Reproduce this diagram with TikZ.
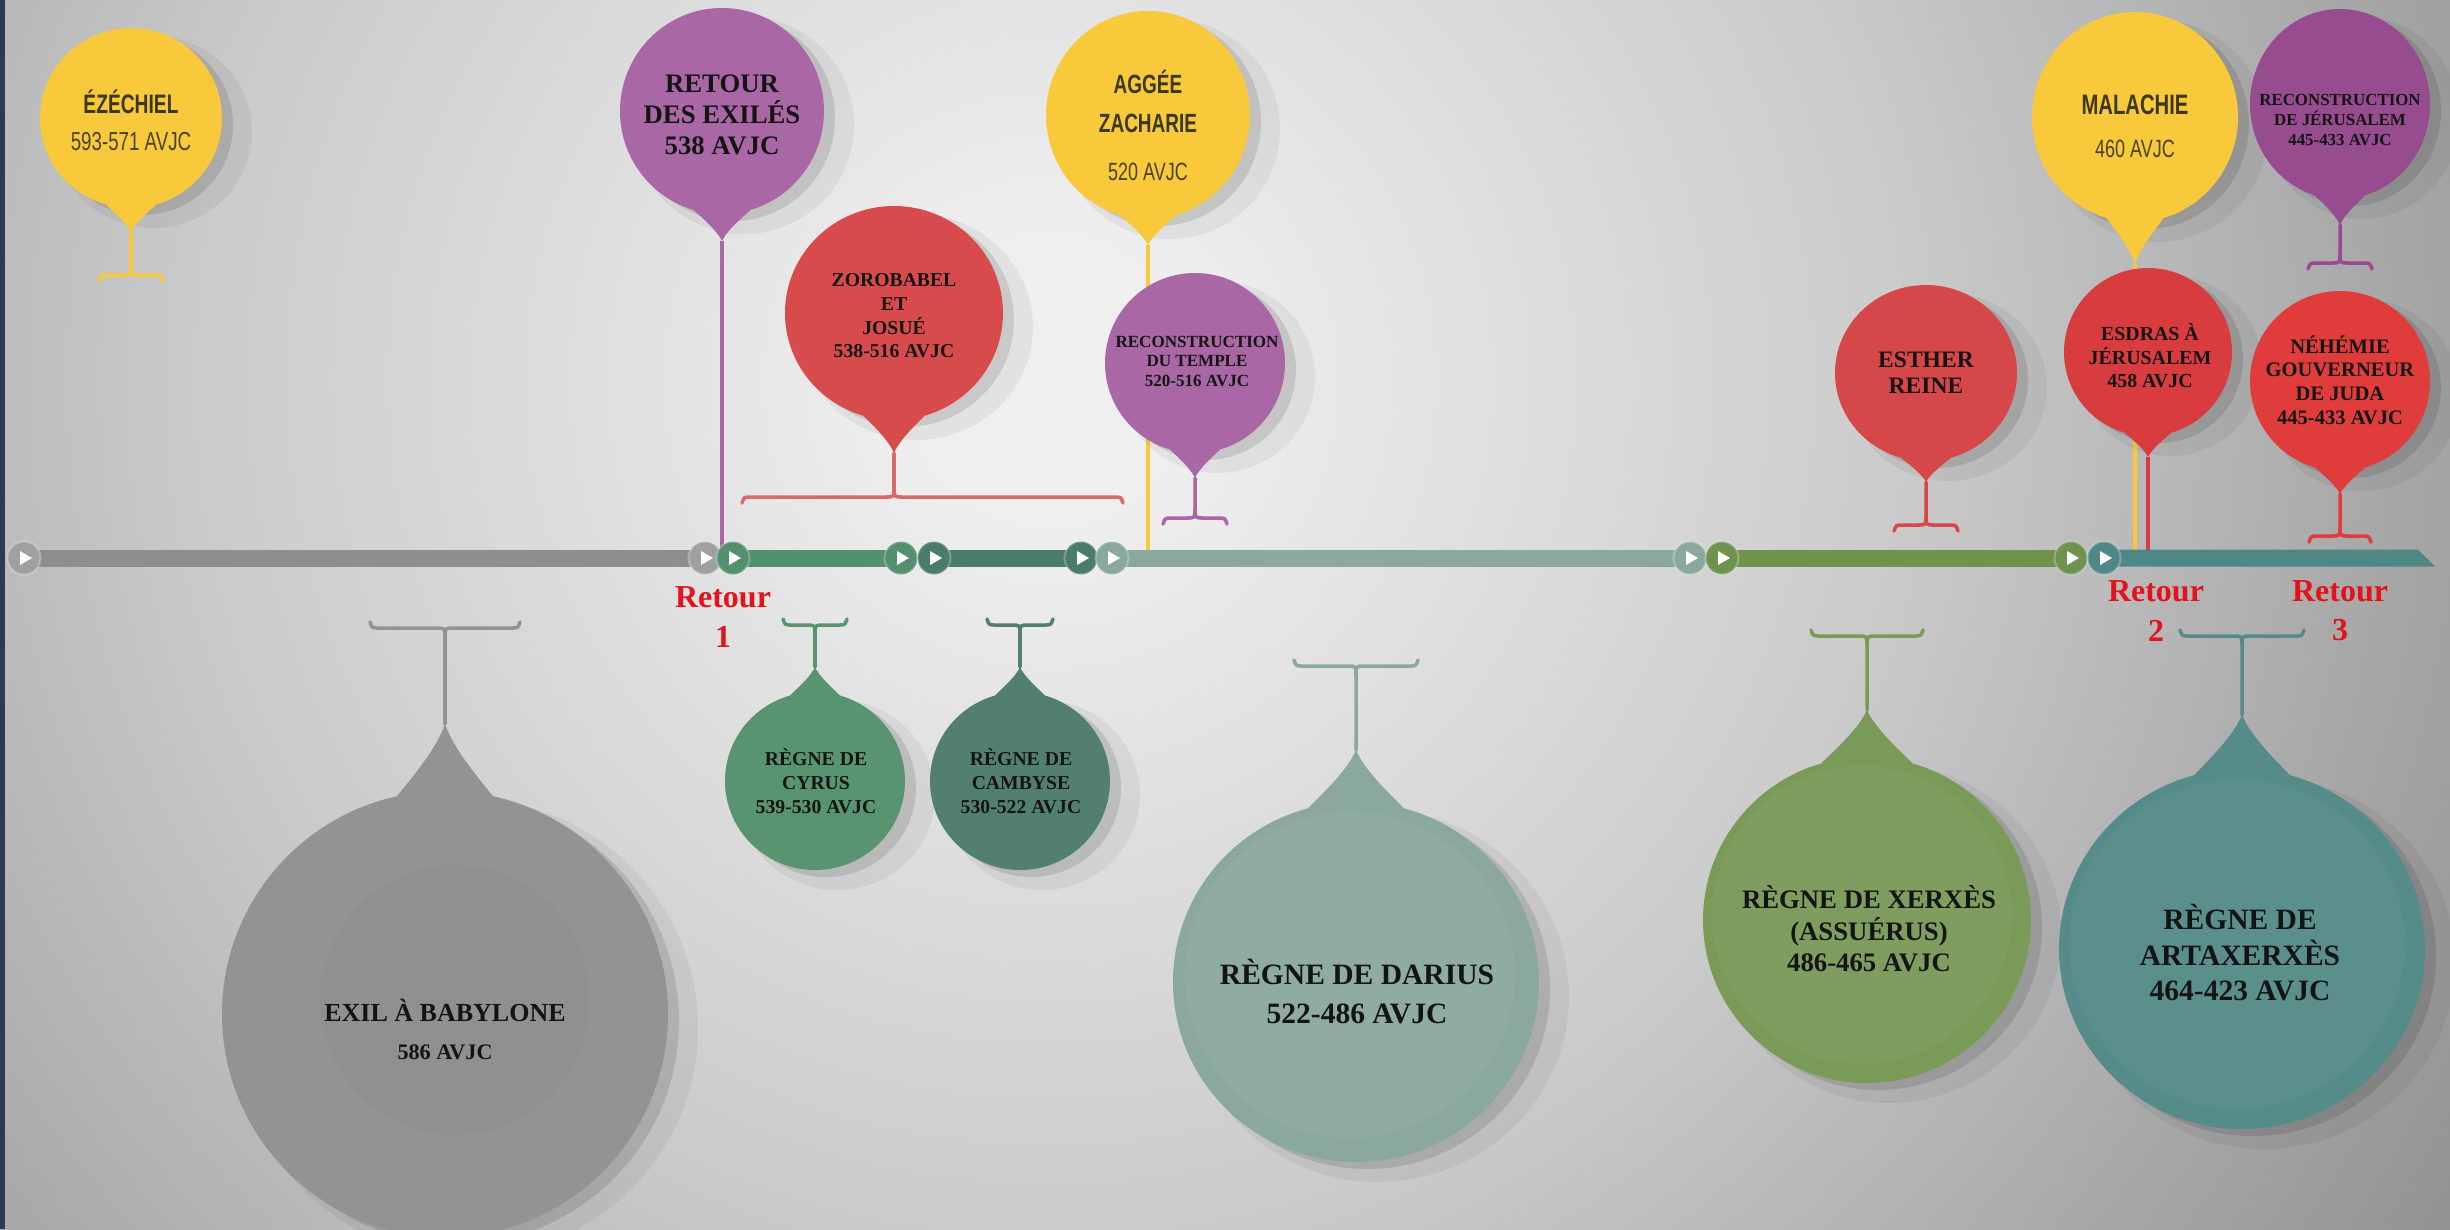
\documentclass[tikz,border=0pt]{standalone}
\usepackage{fontspec}
\setmainfont{Liberation Serif}
\newfontfamily\cnd[FakeStretch=0.72]{Liberation Sans}
\pgfdeclarelayer{back}
\pgfdeclarelayer{lines}
\pgfsetlayers{back,lines,main}
\definecolor{bgA}{HTML}{EFEFEF}
\definecolor{bgB}{HTML}{CBCBCB}
\definecolor{bgD}{HTML}{ABABAB}
\definecolor{bgC}{HTML}{8E8E8E}
\definecolor{navy}{HTML}{2B3A55}
\definecolor{cYel}{HTML}{F8C93B}
\definecolor{cPur}{HTML}{A967A5}
\definecolor{cPurD}{HTML}{964C8E}
\definecolor{cRedZ}{HTML}{D84B4C}
\definecolor{cRedE}{HTML}{D6474A}
\definecolor{cRedS}{HTML}{D83C3E}
\definecolor{cRedN}{HTML}{E13C3C}
\definecolor{cZorL}{HTML}{D96A6A}
\definecolor{cGry}{HTML}{939393}
\definecolor{cGrn}{HTML}{58946F}
\definecolor{cGrnD}{HTML}{537F72}
\definecolor{cDar}{HTML}{8BA8A0}
\definecolor{cOli}{HTML}{7A9A58}
\definecolor{cTea}{HTML}{558B88}
\definecolor{cRet}{HTML}{E3121B}
\definecolor{yTxt}{HTML}{3C3714}
\definecolor{yDat}{HTML}{4A431C}
\definecolor{tGry}{HTML}{8E8E8E}
\definecolor{tGryC}{HTML}{A0A0A0}
\definecolor{tGrn}{HTML}{52906E}
\definecolor{tGrnD}{HTML}{4B7B6B}
\definecolor{tDar}{HTML}{8AA8A0}
\definecolor{tOli}{HTML}{6F924F}
\definecolor{tTea}{HTML}{4F8787}
\pgfdeclareradialshading{bgshade}{\pgfpoint{0bp}{0bp}}{color(0bp)=(bgA); color(2bp)=(bgA); color(12.5bp)=(bgB); color(19bp)=(bgD); color(25bp)=(bgC); color(50bp)=(bgC)}
\newcommand\fs[2]{\fontsize{#1}{#2}\selectfont\bfseries}
% #1 name, #2 cx, #3 cy, #4 rx, #5 ry, #6 colour, #7 tip y, #8 foot y, #9 foot half width (0 = none)
\newcommand\balloon[9]{%
  \pgfmathsetmacro\bd{ifthenelse(#7>#3,1,-1)}%
  \pgfmathsetmacro\bw{min(0.28*#4,48)}%
  \pgfmathsetmacro\byj{#3+\bd*#5*sqrt(1-(\bw/#4)^2)}%
  \pgfmathsetmacro\bdy{#7-\byj}%
  \coordinate (#1-c) at (#2,#3);%
  \coordinate (#1-tip) at (#2,#7);%
  \fill[black,opacity=0.05] ({#2+22},{#3+14}) ellipse [x radius={#4+8}, y radius={#5+6}];%
  \fill[black,opacity=0.11] ({#2+11},{#3+7}) ellipse [x radius=#4, y radius=#5];%
  \fill[#6] ({#2-\bw},{\byj}) .. controls ({#2-0.7*\bw},{\byj+0.25*\bdy}) and ({#2-0.18*\bw},{#7-0.35*\bdy}) .. (#1-tip) .. controls ({#2+0.18*\bw},{#7-0.35*\bdy}) and ({#2+0.7*\bw},{\byj+0.25*\bdy}) .. ({#2+\bw},{\byj}) -- cycle;%
  \fill[#6] (#1-c) ellipse [x radius=#4, y radius=#5];%
  \ifdim #9pt>0pt
    \pgfmathsetmacro\fd{ifthenelse(#7>#8,1,-1)}%
    \coordinate (#1-foot) at (#2,#8);%
    \draw[#6, line width=1pt, line cap=round] (#1-tip) -- ({#2},{#8+\fd*9}) .. controls (#1-foot) .. ({#2-9},{#8}) -- ({#2-#9+7},{#8}) .. controls ({#2-#9},{#8}) .. ({#2-#9-2},{#8-\fd*6});%
    \draw[#6, line width=1pt, line cap=round] ({#2},{#8+\fd*9}) .. controls (#1-foot) .. ({#2+9},{#8}) -- ({#2+#9-7},{#8}) .. controls ({#2+#9},{#8}) .. ({#2+#9+2},{#8-\fd*6});%
  \fi}
\newcommand\tlmark[3]{%
  \node[tlm, fill=#3] (#1) at (#2,558) {};
  \fill[white] ([shift={(-4,-7)}]#1.center) -- ([shift={(8,0)}]#1.center) -- ([shift={(-4,7)}]#1.center) -- cycle;}
\begin{document}
\begin{tikzpicture}[x=0.01cm,y=-0.01cm,
  btxt/.style={align=center, inner sep=0pt, text=black!92},
  ytxt/.style={align=center, inner sep=0pt},
  rtxt/.style={align=center, inner sep=0pt, text=cRet, font=\fs{9.1}{11.1}},
  tlm/.style={circle, minimum size=0.33cm, inner sep=0pt, draw=white, draw opacity=0.25, line width=0.6pt},
  conn/.style={line width=0.9pt}]
\useasboundingbox (0,0) rectangle (2450,1229);
\begin{pgfonlayer}{back}
  \fill[bgD] (0,0) rectangle (2450,1229);
  \begin{scope}
    \clip (0,0) rectangle (2450,1229);
    \shade[shading=bgshade] (1050,380) circle (1700);
  \end{scope}
  \fill[navy] (0,0) rectangle (5,1229);
\end{pgfonlayer}

% ---------- top balloons ----------
\balloon{eze}{131}{118}{91}{90}{cYel}{232}{275}{30}
\balloon{exiles}{722}{111}{102}{103}{cPur}{241}{0}{0}
\balloon{zoro}{894}{313}{109}{107}{cRedZ}{453}{0}{0}
\balloon{aggee}{1148}{115}{102}{104}{cYel}{245}{0}{0}
\balloon{temple}{1195}{363}{90}{90}{cPur}{478}{518}{30}
\balloon{esther}{1926}{373}{91}{88}{cRedE}{482}{525}{30}
\balloon{mal}{2135}{117}{103}{105}{cYel}{264}{0}{0}
\balloon{jeru}{2340}{104}{90}{95}{cPurD}{225}{263}{30}
\balloon{esdras}{2148}{352}{84}{84}{cRedS}{457}{0}{0}
\balloon{nehe}{2340}{381}{90}{90}{cRedN}{494}{536}{29}

% Zorobabel stem and long bracket
\coordinate (zoro-foot) at (894,497);
\draw[cZorL, line width=1pt, line cap=round] (zoro-tip) -- (894,488) .. controls (zoro-foot) .. (885,497) -- (751,497) .. controls (744,497) .. (742,503);
\draw[cZorL, line width=1pt, line cap=round] (894,488) .. controls (zoro-foot) .. (903,497) -- (1114,497) .. controls (1121,497) .. (1123,503);

% ---------- bottom balloons ----------
\balloon{exil}{445}{1014}{223}{223}{cGry}{724}{628}{73}
\fill[black,opacity=0.015] (455,1000) circle (135);
\balloon{cyrus}{815}{781}{90}{89}{cGrn}{667}{625}{30}
\balloon{camb}{1020}{781}{90}{89}{cGrnD}{667}{625}{31}
\balloon{darius}{1356}{982}{183}{180}{cDar}{750}{666}{60}
\fill[white,opacity=0.04] (1350,975) ellipse [x radius=165, y radius=163];
\balloon{xerx}{1867}{920}{164}{163}{cOli}{710}{636}{54}
\fill[white,opacity=0.04] (1862,915) ellipse [x radius=150, y radius=149];
\balloon{arta}{2242}{949}{183}{180}{cTea}{715}{636}{60}
\fill[white,opacity=0.035] (2237,944) ellipse [x radius=168, y radius=165];

% ---------- connectors to the timeline ----------
\coordinate (tlA) at (722,556);
\coordinate (tlB) at (1148,556);
\coordinate (tlC) at (2135,556);
\coordinate (tlD) at (2148,556);
\begin{pgfonlayer}{lines}
  \draw[cPur, conn] (exiles-tip) -- (tlA);
  \draw[cYel, line width=1.1pt] (aggee-tip) -- (tlB);
  \draw[cYel, line width=1.1pt] (mal-tip) -- (tlC);
  \draw[cRedS, conn] (esdras-tip) -- (tlD);
\end{pgfonlayer}

% ---------- timeline ----------
\fill[tGry] (24,549.5) rectangle (705,566.5);
\fill[tGrn] (733,549.5) rectangle (901,566.5);
\fill[tGrnD] (934,549.5) rectangle (1081,566.5);
\fill[tDar] (1112,549.5) rectangle (1690,566.5);
\fill[tOli] (1722,549.5) rectangle (2071,566.5);
\fill[tTea] (2104,549.5) -- (2418,549.5) -- (2435,566.5) -- (2104,566.5) -- cycle;
\tlmark{m1}{24}{tGryC}
\tlmark{m2}{705}{tGryC}
\tlmark{m3}{733}{tGrn}
\tlmark{m4}{901}{tGrn}
\tlmark{m5}{934}{tGrnD}
\tlmark{m6}{1081}{tGrnD}
\tlmark{m7}{1112}{tDar}
\tlmark{m8}{1690}{tDar}
\tlmark{m9}{1722}{tOli}
\tlmark{m10}{2071}{tOli}
\tlmark{m11}{2104}{tTea}

% ---------- texts ----------
\node[ytxt, text=yTxt, font=\cnd\bfseries\fontsize{7.6}{8}\selectfont] (ezeN) at (131,102) {ÉZÉCHIEL};
\node[ytxt, text=yDat, font=\cnd\fontsize{7.4}{8}\selectfont] (ezeD) at (131,142) {593-571 AVJC};
\node[btxt, font=\fs{7.6}{8.8}] (exilesT) at (722,115) {RETOUR\\DES EXILÉS\\538 AVJC};
\node[btxt, font=\fs{5.6}{6.75}] (zoroT) at (894,316) {ZOROBABEL\\ET\\JOSUÉ\\538-516 AVJC};
\node[ytxt, text=yTxt, font=\cnd\bfseries\fontsize{7.5}{8}\selectfont] (aggN1) at (1148,82) {AGGÉE};
\node[ytxt, text=yTxt, font=\cnd\bfseries\fontsize{7.5}{8}\selectfont] (aggN2) at (1148,123) {ZACHARIE};
\node[ytxt, text=yDat, font=\cnd\fontsize{7.1}{8}\selectfont] (aggD) at (1148,172) {520 AVJC};
\node[btxt, font=\fs{4.85}{5.55}] (templeT) at (1197,361) {RECONSTRUCTION\\DU TEMPLE\\520-516 AVJC};
\node[btxt, font=\fs{6.7}{7.4}] (estherT) at (1926,373) {ESTHER\\REINE};
\node[ytxt, text=yTxt, font=\cnd\bfseries\fontsize{8}{8}\selectfont] (malN) at (2135,105) {MALACHIE};
\node[ytxt, text=yDat, font=\cnd\fontsize{7.1}{8}\selectfont] (malD) at (2135,149) {460 AVJC};
\node[btxt, font=\fs{4.8}{5.7}] (jeruT) at (2340,120) {RECONSTRUCTION\\DE JÉRUSALEM\\445-433 AVJC};
\node[btxt, font=\fs{5.65}{6.7}] (esdrasT) at (2150,356) {ESDRAS À\\JÉRUSALEM\\458 AVJC};
\node[btxt, font=\fs{5.85}{6.7}] (neheT) at (2340,380) {NÉHÉMIE\\GOUVERNEUR\\DE JUDA\\445-433 AVJC};

\node[btxt, font=\fs{7.4}{8}] (exilN) at (445,1010) {EXIL À BABYLONE};
\node[btxt, font=\fs{6.3}{8}] (exilD) at (445,1052) {586 AVJC};
\node[btxt, font=\fs{5.6}{6.8}] (cyrusT) at (816,781) {RÈGNE DE\\CYRUS\\539-530 AVJC};
\node[btxt, font=\fs{5.6}{6.8}] (cambT) at (1021,781) {RÈGNE DE\\CAMBYSE\\530-522 AVJC};
\node[btxt, font=\fs{8.4}{11.1}] (dariusT) at (1357,992) {RÈGNE DE DARIUS\\522-486 AVJC};
\node[btxt, font=\fs{7.6}{9}] (xerxT) at (1869,929) {RÈGNE DE XERXÈS\\(ASSUÉRUS)\\486-465 AVJC};
\node[btxt, font=\fs{8.4}{10.1}] (artaT) at (2240,953) {RÈGNE DE\\ARTAXERXÈS\\464-423 AVJC};

\node[rtxt] (ret1) at (723,617) {Retour\\1};
\node[rtxt] (ret2) at (2156,611) {Retour\\2};
\node[rtxt] (ret3) at (2340,611) {Retour\\3};
\end{tikzpicture}
\end{document}
